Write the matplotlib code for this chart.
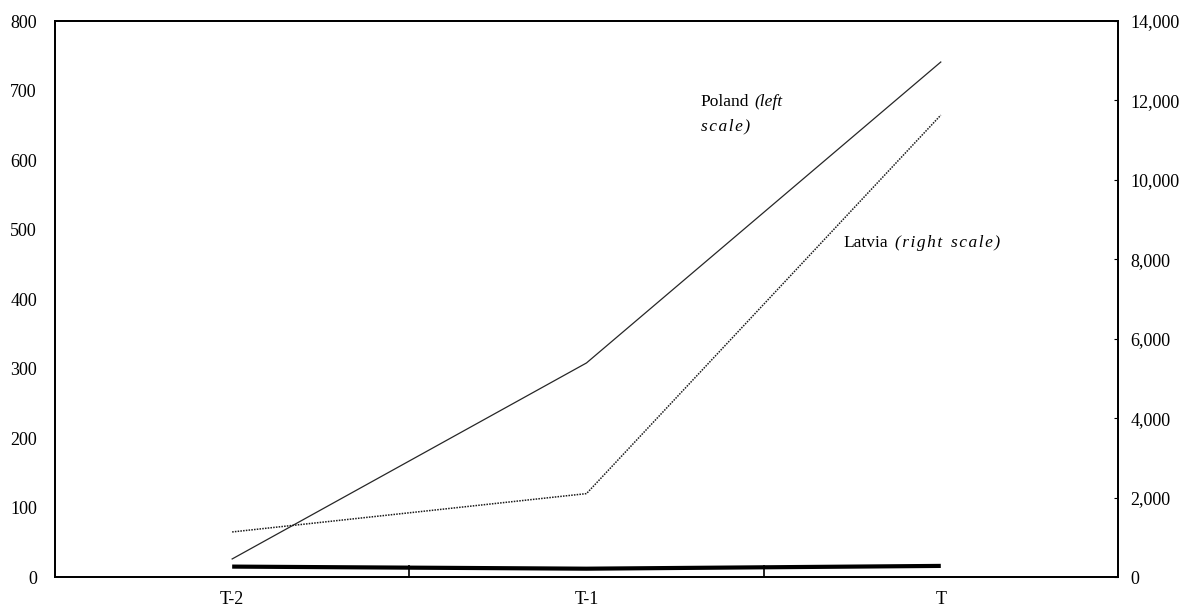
import matplotlib
matplotlib.use("Agg")
import matplotlib.pyplot as plt
import numpy as np

# data
periods = ["T-2", "T-1", "T"]
poland = [26, 308, 741]          # left scale
latvia = [1135, 2100, 11630]     # right scale
base = [15, 12, 16]              # thick unlabeled line, left scale

plt.rcParams['font.family'] = ['Liberation Serif', 'DejaVu Serif']

fig = plt.figure(figsize=(11.83, 6.09), dpi=100)
ax = fig.add_axes([0.0465, 0.0525, 0.8985, 0.913])
ax2 = ax.twinx()

x = np.arange(len(periods))

ax.plot(x, poland, color="0.15", linewidth=0.9, solid_joinstyle="miter")
ax.plot(x, base, color="black", linewidth=3.0, solid_capstyle="butt")
ax2.plot(x, latvia, color="0.1", linewidth=1.1, linestyle=(0, (1, 0.8)))

ax.set_xlim(-0.5, 2.5)
ax.set_ylim(0, 800)
ax2.set_ylim(0, 14000)

ax.set_yticks(np.arange(0, 801, 100))
ax2.set_yticks(np.arange(0, 14001, 2000))
ax2.set_yticklabels([f"{v:,}" for v in range(0, 14001, 2000)])

# category labels centred, tick marks between categories
ax.set_xticks(x)
ax.set_xticklabels(periods)
ax.set_xticks([0.5, 1.5], minor=True)
ax.tick_params(axis="x", which="major", length=0, pad=10, labelsize=13)
ax.tick_params(axis="x", which="minor", direction="in", length=9, width=1.2)
ax.tick_params(axis="y", length=0, pad=13, labelsize=13)
ax2.tick_params(axis="y", direction="in", length=3, width=0.8, pad=9, labelsize=13)

for a in (ax, ax2):
    for s in a.spines.values():
        s.set_linewidth(1.3)
        s.set_color("black")

hs = "\u200a"  # hair space for the wide italic lettering


def spaced(s):
    return hs.join(s)


# labels with mixed upright / italic text
t1 = ax.text(1.322, 683, "Poland", fontsize=12.5, va="center", ha="left")
ax.annotate("(left", xy=(1, 0.5), xycoords=t1, xytext=(4, 0),
            textcoords="offset points", fontsize=12.5, style="italic",
            va="center", ha="left")
ax.text(1.322, 648, spaced("scale)"), fontsize=12.5, style="italic",
        va="center", ha="left")

t2 = ax.text(1.726, 481, "Latvia", fontsize=12.5, va="center", ha="left")
ax.annotate(spaced("(right") + "  " + spaced("scale)"), xy=(1, 0.5), xycoords=t2,
            xytext=(5, 0), textcoords="offset points", fontsize=12.5,
            style="italic", va="center", ha="left")

fig.savefig("out.png", dpi=100)
